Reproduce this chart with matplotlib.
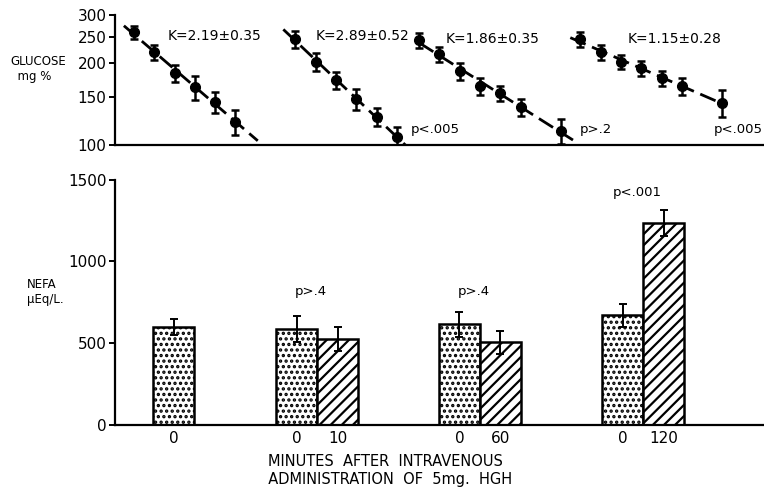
"""
Glucose disappearance curves and plasma NEFA after intravenous HGH.
"""
import numpy as np
import matplotlib.pyplot as plt
from matplotlib.ticker import FixedLocator, NullLocator

plt.rcParams["font.family"] = "DejaVu Sans"
plt.rcParams["hatch.linewidth"] = 1.6

# glucose tolerance curves (mg %), one per study period
times_short = [0, 10, 20, 30, 40, 50]
times_long = [0, 10, 20, 30, 40, 50, 70]
glucose_times = [times_short, times_short, times_long, times_long]
glucose_means = [
    [260, 219, 184, 163, 144, 122],
    [245, 202, 173, 148, 127, 107],
    [243, 216, 187, 165, 155, 138, 113],
    [245, 219, 202, 192, 176, 165, 143],
]
glucose_errs = [
    [14, 14, 13, 16, 13, 13],
    [17, 15, 13, 13, 10, 9],
    [16, 14, 13, 12, 10, 10, 12],
    [15, 14, 12, 12, 11, 12, 16],
]
k_labels = ["K=2.19±0.35", "K=2.89±0.52", "K=1.86±0.35", "K=1.15±0.28"]
glucose_p = [None, "p<.005", "p>.2", "p<.005"]

# NEFA (uEq/L) before (0) and after HGH
nefa_groups = ["0", "10", "60", "120"]
nefa_before = [600, 585, 615, 670]
nefa_before_err = [50, 80, 75, 70]
nefa_after = [None, 525, 505, 1237]
nefa_after_err = [None, 75, 70, 80]
nefa_p = [None, "p>.4", "p>.4", "p<.001"]

fig = plt.figure(figsize=(7.64, 4.90), dpi=100)

# ---- top panel: glucose on log scale
ax1 = fig.add_axes([0.1505, 0.704, 0.8495, 0.265])
offsets = [9.4, 89.0, 150.0, 229.5]
fit_ext = [(-5, 61), (-6, 56), (0, 77), (-5, 70)]
k_pos = [(26, 252), (99, 252), (163, 245), (253, 245)]
p_pos = [None, (146, 114), (229, 114), (295, 114)]
for i in range(4):
    t = np.array(glucose_times[i], dtype=float)
    y = np.array(glucose_means[i], dtype=float)
    x = t + offsets[i]
    slope, icpt = np.polyfit(t, np.log(y), 1)
    tt = np.linspace(fit_ext[i][0], fit_ext[i][1], 50)
    ax1.plot(tt + offsets[i], np.exp(icpt + slope * tt), color="black",
             lw=2.0, dashes=(6, 2.5), zorder=2)
    ax1.errorbar(x, y, yerr=glucose_errs[i], fmt="o", color="black",
                 ms=7, elinewidth=1.8, capsize=3, capthick=1.8, zorder=3)
    ax1.text(k_pos[i][0], k_pos[i][1], k_labels[i], fontsize=10,
             va="center", ha="left")
    if glucose_p[i]:
        ax1.text(p_pos[i][0], p_pos[i][1], glucose_p[i], fontsize=9.5,
                 va="center", ha="left", clip_on=False)

ax1.set_yscale("log")
ax1.set_ylim(100, 300)
ax1.set_xlim(0, 320)
ax1.yaxis.set_major_locator(FixedLocator([100, 150, 200, 250, 300]))
ax1.yaxis.set_minor_locator(NullLocator())
ax1.set_yticklabels(["100", "150", "200", "250", "300"])
ax1.set_xticks([])
for s in ["top", "right"]:
    ax1.spines[s].set_visible(False)
ax1.spines["left"].set_linewidth(1.6)
ax1.spines["bottom"].set_linewidth(1.6)
ax1.tick_params(axis="y", direction="out", length=4, width=1.4,
                labelsize=11, pad=2)
fig.text(0.013, 0.86, "GLUCOSE\n  mg %", fontsize=8.5, va="center",
         ha="left", linespacing=1.2)

# ---- bottom panel: NEFA bars
ax2 = fig.add_axes([0.1505, 0.133, 0.8495, 0.50])
centers = [1.43, 4.93, 8.9, 12.88]
p_y = [None, 815, 815, 1420]
w = 1.0
for i in range(4):
    if nefa_after[i] is None:
        xb = centers[i]
    else:
        xb = centers[i] - w / 2
    ax2.bar(xb, nefa_before[i], width=w, facecolor="white", edgecolor="black",
            linewidth=1.8, hatch="...", zorder=2)
    ax2.errorbar(xb, nefa_before[i], yerr=nefa_before_err[i], fmt="none",
                 ecolor="black", elinewidth=1.4, capsize=3, capthick=1.4,
                 zorder=3)
    ax2.text(xb, -85, "0", ha="center", va="center", fontsize=11)
    if nefa_after[i] is not None:
        xa = centers[i] + w / 2
        ax2.bar(xa, nefa_after[i], width=w, facecolor="white",
                edgecolor="black", linewidth=1.8, hatch="///", zorder=2)
        ax2.errorbar(xa, nefa_after[i], yerr=nefa_after_err[i], fmt="none",
                     ecolor="black", elinewidth=1.4, capsize=3, capthick=1.4,
                     zorder=3)
        ax2.text(xa, -85, nefa_groups[i], ha="center", va="center",
                 fontsize=11)
    if nefa_p[i]:
        ax2.text(centers[i] - 0.15, p_y[i], nefa_p[i], ha="center",
                 va="center", fontsize=9.5)

ax2.set_xlim(0, 15.83)
ax2.set_ylim(0, 1500)
ax2.set_yticks([0, 500, 1000, 1500])
ax2.set_xticks([])
for s in ["top", "right"]:
    ax2.spines[s].set_visible(False)
ax2.spines["left"].set_linewidth(1.6)
ax2.spines["bottom"].set_linewidth(1.6)
ax2.tick_params(axis="y", direction="out", length=4, width=1.4,
                labelsize=11, pad=2)
fig.text(0.035, 0.405, "NEFA\nμEq/L.", fontsize=8.5, va="center",
         ha="left", linespacing=1.2)
fig.text(0.505, 0.039, "MINUTES  AFTER  INTRAVENOUS\n  ADMINISTRATION  OF  5mg.  HGH",
         fontsize=10.5, ha="center", va="center", linespacing=1.25)

fig.savefig("out.png", dpi=100)
plt.close(fig)
